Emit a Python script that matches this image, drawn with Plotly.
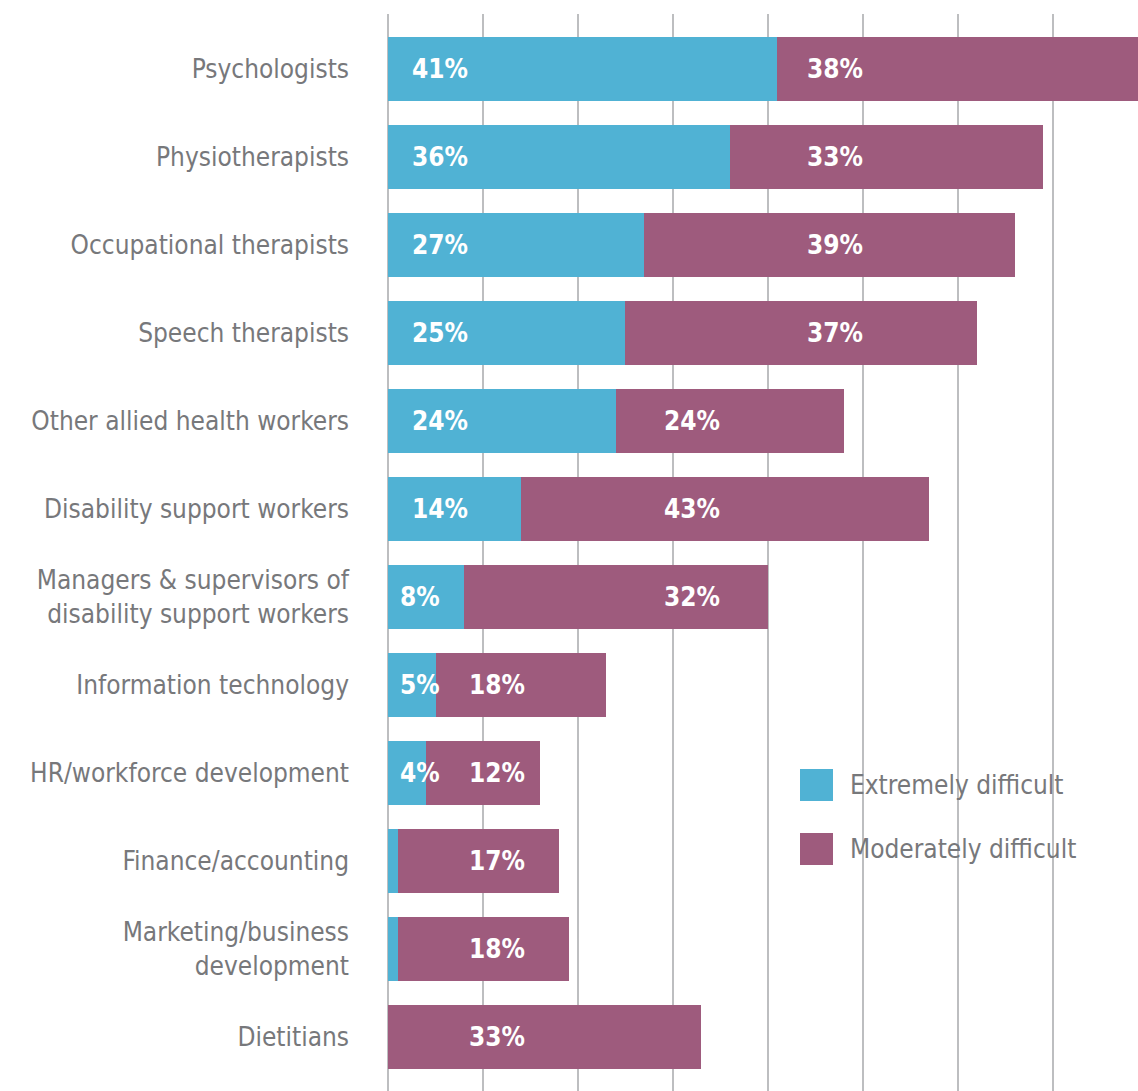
import plotly.graph_objects as go

categories = [
    "Psychologists",
    "Physiotherapists",
    "Occupational therapists",
    "Speech therapists",
    "Other allied health workers",
    "Disability support workers",
    "Managers & supervisors of<br>disability support workers",
    "Information technology",
    "HR/workforce development",
    "Finance/accounting",
    "Marketing/business<br>development",
    "Dietitians",
]
extremely = [41, 36, 27, 25, 24, 14, 8, 5, 4, 1, 1, 0]
moderately = [38, 33, 39, 37, 24, 43, 32, 18, 12, 17, 18, 33]

# label columns used by the original design (x in % units)
label_cols = [14.6, 35.2, 50.2]
mod_label_col = [2, 2, 2, 2, 1, 1, 1, 0, 0, 0, 0, 0]

BLUE = "#50B2D4"
PURPLE = "#9E5B7D"
GREY = "#77787B"
GRID = "#BDBEC0"
FONT = "DejaVu Sans Condensed, Roboto, sans-serif"

W, H = 1138, 1091
L, T = 385, 14
PW, PH = W - L, H - T


def px_to_paper_x(px):
    return (px - L) / PW


def px_to_paper_y(py):
    return 1 - (py - T) / PH


fig = go.Figure()
fig.add_trace(go.Bar(y=categories, x=extremely, orientation="h", name="Extremely difficult",
                     marker=dict(color=BLUE, line=dict(width=0)), width=0.727))
fig.add_trace(go.Bar(y=categories, x=moderately, orientation="h", name="Moderately difficult",
                     marker=dict(color=PURPLE, line=dict(width=0)), width=0.727))

# value labels
for cat, e, m, col in zip(categories, extremely, moderately, mod_label_col):
    if e >= 10:
        fig.add_annotation(x=8.6, y=cat, text=f"{e}%", xanchor="right", showarrow=False,
                           font=dict(family=FONT, size=26, color="white", weight="bold"))
    elif e >= 2:
        fig.add_annotation(x=1.1, y=cat, text=f"{e}%", xanchor="left", showarrow=False,
                           font=dict(family=FONT, size=26, color="white", weight="bold"))
    fig.add_annotation(x=label_cols[col], y=cat, text=f"{m}%", xanchor="right", showarrow=False,
                       font=dict(family=FONT, size=26, color="white", weight="bold"))

# legend drawn by hand (large swatches)
legend_items = [("Extremely difficult", BLUE), ("Moderately difficult", PURPLE)]
for i, (name, color) in enumerate(legend_items):
    top = px_to_paper_y(769 + 64 * i)
    bot = px_to_paper_y(801 + 64 * i)
    fig.add_shape(type="rect", xref="paper", yref="paper",
                  x0=px_to_paper_x(800), x1=px_to_paper_x(833), y0=bot, y1=top,
                  fillcolor=color, line=dict(width=0))
    fig.add_annotation(xref="paper", yref="paper", x=px_to_paper_x(848), y=(top + bot) / 2,
                       text=name, xanchor="left", yanchor="middle", showarrow=False,
                       font=dict(family=FONT, size=26, color=GREY))

fig.update_layout(
    barmode="stack",
    width=W, height=H,
    margin=dict(l=L, r=0, t=T, b=0),
    plot_bgcolor="white", paper_bgcolor="white",
    showlegend=False,
    bargap=0,
)
fig.update_xaxes(range=[-0.316, 78.95], dtick=10, showgrid=True, gridcolor=GRID, gridwidth=2,
                 showticklabels=False, zeroline=True, zerolinecolor=GRID, zerolinewidth=2,
                 showline=False, automargin=False)
fig.update_yaxes(range=[11.614, -0.625], showgrid=False, ticks="", ticklabelstandoff=35,
                 tickfont=dict(family=FONT, size=26, color=GREY), showline=False, automargin=False)

# drop the default page margin so the figure sits at the page origin
fig.write_html("out.html", config={"displayModeBar": False},
               post_script="document.body.style.margin = '0';")
